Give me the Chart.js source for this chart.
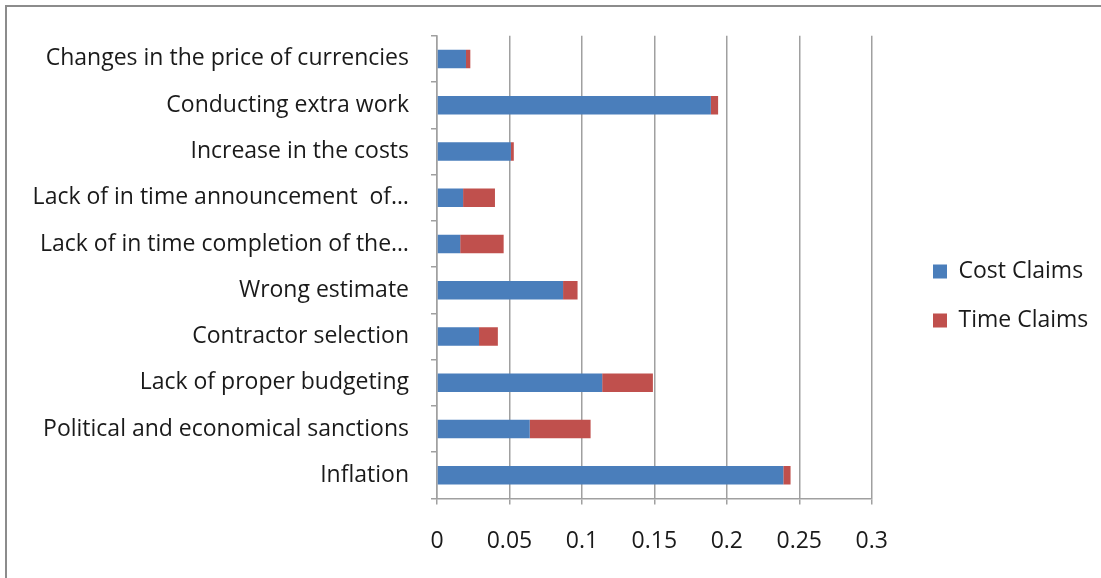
<!DOCTYPE html>
<html>
<head>
<meta charset="utf-8">
<title>Cost and Time Claims</title>
<script src="https://cdn.jsdelivr.net/npm/chart.js@4.4.1/dist/chart.umd.min.js"></script>
<style>
    html, body {
        margin: 0;
        padding: 0;
        background: #ffffff;
    }
    #frame {
        position: absolute;
        left: 5px;
        top: 5px;
        width: 1101px;
        height: 578px;
        border-top: 2px solid #8c8c8c;
        border-left: 2px solid #8c8c8c;
    }
    #wrap {
        position: absolute;
        left: 0;
        top: 0;
        width: 1101px;
        height: 578px;
    }
</style>
</head>
<body>
<div id="frame"></div>
<div id="wrap"><canvas id="claimsChart"></canvas></div>
<script>
// Causes of claims, listed top to bottom
const causes = [
    "Changes in the price of currencies",
    "Conducting extra work",
    "Increase in the costs",
    "Lack of in time announcement  of\u2026",
    "Lack of in time completion of the\u2026",
    "Wrong estimate",
    "Contractor selection",
    "Lack of proper budgeting",
    "Political and economical sanctions",
    "Inflation",
];

// Share of each cause in cost claims
const costClaims = [0.020, 0.189, 0.051, 0.018, 0.016, 0.087, 0.029, 0.114, 0.064, 0.239];

// Share of each cause in time claims
const timeClaims = [0.003, 0.005, 0.002, 0.022, 0.030, 0.010, 0.013, 0.035, 0.042, 0.005];

// Value axis ticks
const xTicks = [0, 0.05, 0.1, 0.15, 0.2, 0.25, 0.3];

const fontFamily = "'Open Sans', 'Noto Sans', sans-serif";
const fontSize = 23;
const textColor = "#1a1a1a";
const lineColor = "#a0a0a0";

// Push the legend further right (and a bit up) than the default layout puts it
const legendShift = {
    id: "legendShift",
    afterLayout(chart) {
        const lg = chart.legend;
        if (!lg) return;
        const w = lg.width;
        lg.left = 907;
        lg.right = lg.left + w;
        lg.top -= 8;
        lg.bottom -= 8;
    },
};

const ctx = document.getElementById("claimsChart");

new Chart(ctx, {
    type: "bar",
    data: {
        labels: causes,
        datasets: [
            {
                label: "Cost Claims",
                data: costClaims,
                backgroundColor: "#4a7ebb",
                borderWidth: 0,
                barPercentage: 0.4,
                categoryPercentage: 1.0,
            },
            {
                label: "Time Claims",
                data: timeClaims,
                backgroundColor: "#c0504d",
                borderWidth: 0,
                barPercentage: 0.4,
                categoryPercentage: 1.0,
            },
        ],
    },
    plugins: [legendShift],
    options: {
        indexAxis: "y",
        responsive: true,
        maintainAspectRatio: false,
        animation: false,
        layout: {
            padding: { top: 30, right: 38, bottom: 0, left: 10 },
        },
        plugins: {
            legend: {
                display: true,
                position: "right",
                align: "center",
                labels: {
                    boxWidth: 14,
                    boxHeight: 14,
                    padding: 26,
                    color: textColor,
                    font: { family: fontFamily, size: fontSize },
                },
            },
            tooltip: { enabled: false },
        },
        scales: {
            x: {
                stacked: true,
                min: 0,
                max: 0.3,
                afterBuildTicks: (scale) => {
                    scale.ticks = xTicks.map((v) => ({ value: v }));
                },
                ticks: {
                    color: textColor,
                    padding: 23,
                    font: { family: fontFamily, size: fontSize },
                    callback: (value) => String(value),
                },
                grid: {
                    color: lineColor,
                    lineWidth: 1.5,
                    tickLength: 6,
                },
                border: { color: lineColor, width: 1.5 },
            },
            y: {
                stacked: true,
                // keep the long cause names from being cut off
                afterFit: (scale) => {
                    scale.width = 427;
                },
                ticks: {
                    color: textColor,
                    padding: 22,
                    autoSkip: false,
                    font: { family: fontFamily, size: fontSize },
                },
                grid: {
                    offset: true,
                    drawOnChartArea: false,
                    color: lineColor,
                    lineWidth: 1.5,
                    tickLength: 6,
                },
                border: { color: lineColor, width: 1.5 },
            },
        },
    },
});
</script>
</body>
</html>
